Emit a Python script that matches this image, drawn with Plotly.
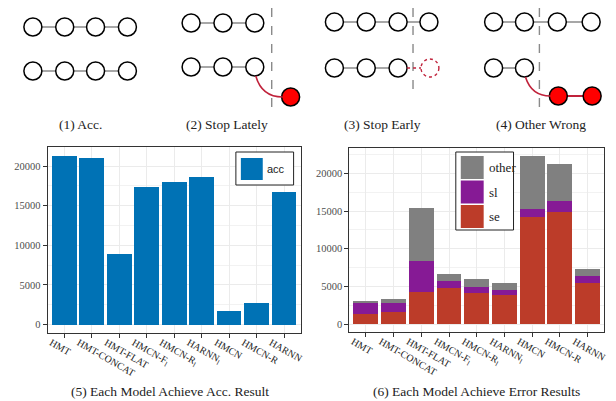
import plotly.graph_objects as go

# ---------------- data ----------------
models = ["HMT", "HMT-CONCAT", "HMT-FLAT", "HMCN-F<sub>l</sub>", "HMCN-R<sub>l</sub>",
          "HARNN<sub>l</sub>", "HMCN", "HMCN-R", "HARNN"]
acc = [21250, 21000, 8900, 17340, 17970, 18600, 1760, 2730, 16710]
err_se = [1330, 1600, 4260, 4790, 4120, 3860, 14230, 14890, 5450]
err_sl = [1420, 1150, 4080, 890, 800, 660, 1060, 1470, 930]
err_other = [350, 580, 7090, 970, 1060, 930, 7050, 4920, 930]
yticks = [0, 5000, 10000, 15000, 20000]
ytick_text = ["0", "5000", "10000", "15000", "20000"]

# diagram nodes (illustration, pixel space of the top strip)
chains = [
    ([25, 57, 88, 120], 19), ([25, 57, 88, 120], 63),
    ([184, 216, 248], 15), ([184, 216, 248], 59),
    ([328, 360, 392, 423], 14), ([328, 360, 392], 60),
    ([488, 519, 552, 586], 14), ([488, 519], 60),
]
red_chains = [([284], 89), ([553, 587], 88)]
cut_lines = [(265, 100), (407, 82), (534, 100)]
captions = [("(1) Acc.", 73, 117), ("(2) Stop Lately", 220, 117),
            ("(3) Stop Early", 376, 117), ("(4) Other Wrong", 536, 117),
            ("(5) Each Model Achieve Acc. Result", 163, 383),
            ("(6) Each Model Achieve Error Results", 471, 383)]

C_ACC = "#0072B5"
C_SE = "#BC3C29"
C_SL = "#861A95"
C_OT = "#808080"
SERIF = "Liberation Serif"
W, H = 616, 401


def px(x):
    return x / W


def py(y):
    return 1 - y / H


fig = go.Figure()

# ---------------- bar charts ----------------
fig.add_trace(go.Bar(x=models, y=acc, marker=dict(color=C_ACC, line_width=0),
                     xaxis="x", yaxis="y", showlegend=False, name="acc"))
for vals, col, nm in [(err_se, C_SE, "se"), (err_sl, C_SL, "sl"), (err_other, C_OT, "other")]:
    fig.add_trace(go.Bar(x=models, y=vals, marker=dict(color=col, line_width=0),
                         xaxis="x2", yaxis="y2", showlegend=False, name=nm))

# ---------------- diagrams ----------------
for xs, y in chains:
    fig.add_trace(go.Scatter(x=xs, y=[y] * len(xs), mode="lines+markers", xaxis="x3", yaxis="y3",
                             line=dict(color="#8a8a8a", width=1.6),
                             marker=dict(size=18, color="white", line=dict(color="black", width=1.5)),
                             showlegend=False, hoverinfo="skip"))
for xs, y in red_chains:
    fig.add_trace(go.Scatter(x=xs, y=[y] * len(xs), mode="lines+markers", xaxis="x3", yaxis="y3",
                             line=dict(color="#C0223B", width=1.8),
                             marker=dict(size=18, color="#FF0000", line=dict(color="black", width=1.5)),
                             showlegend=False, hoverinfo="skip"))

shapes = []
for x, yb in cut_lines:
    shapes.append(dict(type="line", xref="x3", yref="y3", x0=x, x1=x, y0=0, y1=yb,
                       line=dict(color="#8a8a8a", width=1.4, dash="dash")))
# red curved connectors
shapes.append(dict(type="path", xref="x3", yref="y3", path="M 249,68 Q 255,89 276,89",
                   line=dict(color="#C0223B", width=1.6)))
shapes.append(dict(type="path", xref="x3", yref="y3", path="M 520,69 Q 526,88 545,88",
                   line=dict(color="#C0223B", width=1.6)))
# dotted (missing) node in panel 3
shapes.append(dict(type="line", xref="x3", yref="y3", x0=401, x1=415, y0=60, y1=60,
                   line=dict(color="#C0223B", width=1.4, dash="dot")))
shapes.append(dict(type="circle", xref="x3", yref="y3", x0=415, x1=433, y0=51, y1=69,
                   line=dict(color="#C0223B", width=1.4, dash="dot")))

# ---------------- manual legends (ggplot style) ----------------
shapes.append(dict(type="rect", xref="paper", yref="paper", x0=px(229), x1=px(287), y0=py(177), y1=py(144),
                   line=dict(color="#222", width=1), fillcolor="white"))
shapes.append(dict(type="rect", xref="paper", yref="paper", x0=px(234), x1=px(256), y0=py(172), y1=py(150),
                   line=dict(width=0), fillcolor=C_ACC))
shapes.append(dict(type="rect", xref="paper", yref="paper", x0=px(450), x1=px(508), y0=py(222), y1=py(144),
                   line=dict(color="#222", width=1), fillcolor="white"))
leg2 = [("other", C_OT, 148), ("sl", C_SL, 172.5), ("se", C_SE, 197)]
annotations = []
for lab, col, yt in leg2:
    shapes.append(dict(type="rect", xref="paper", yref="paper", x0=px(455), x1=px(478), y0=py(yt + 23), y1=py(yt),
                       line=dict(width=0), fillcolor=col))
    annotations.append(dict(text=lab, xref="paper", yref="paper", x=px(481), y=py(yt + 11.5), xanchor="left",
                            yanchor="middle", showarrow=False, font=dict(family=SERIF, size=13, color="#222")))
annotations.append(dict(text="acc", xref="paper", yref="paper", x=px(258), y=py(161), xanchor="left",
                        yanchor="middle", showarrow=False, font=dict(family="Liberation Sans", size=11, color="#222")))

for txt, x, y in captions:
    annotations.append(dict(text=txt, xref="paper", yref="paper", x=px(x), y=py(y), xanchor="center",
                            yanchor="middle", showarrow=False, font=dict(family=SERIF, size=13.5, color="#222")))

grid = "#ebebeb"


def xax(dom):
    return dict(domain=dom, range=[-0.6, 8.6], showgrid=True, gridcolor=grid, gridwidth=1.1,
                showline=True, mirror=True, linecolor="#333", linewidth=1.2,
                ticks="outside", ticklen=4, tickcolor="#333", tickangle=30,
                ticklabelstandoff=-5, ticklabelshift=-13,
                tickfont=dict(family=SERIF, size=10, color="#222"), zeroline=False, fixedrange=True)


def yax(dom, rng, anchor):
    return dict(domain=dom, range=rng, anchor=anchor, tickvals=yticks, ticktext=ytick_text,
                showgrid=True, gridcolor=grid,
                gridwidth=1.1, minor=dict(dtick=2500, showgrid=True, gridcolor="#f2f2f2", gridwidth=0.6),
                showline=True, mirror=True, linecolor="#333", linewidth=1.2,
                ticks="outside", ticklen=4, tickcolor="#333",
                tickfont=dict(family=SERIF, size=10.5, color="#4d4d4d"), zeroline=False)


fig.update_layout(
    width=W, height=H, autosize=False,
    margin=dict(l=0, r=0, t=0, b=0),
    paper_bgcolor="white", plot_bgcolor="white",
    barmode="stack", bargap=0.1,
    xaxis=dict(**xax([px(40), px(294)]), anchor="y"),
    yaxis=yax([py(325), py(139)], [-1060, 22400], "x"),
    xaxis2=dict(**xax([px(343), px(599)]), anchor="y2"),
    yaxis2=yax([py(324), py(140)], [-1064, 23400], "x2"),
    xaxis3=dict(domain=[0, 1], range=[0, W], visible=False, anchor="y3", fixedrange=True),
    yaxis3=dict(domain=[py(130), 1], range=[130, 0], visible=False, anchor="x3", fixedrange=True),
    shapes=shapes, annotations=annotations,
    showlegend=False,
)

fig.write_html("out.html")
